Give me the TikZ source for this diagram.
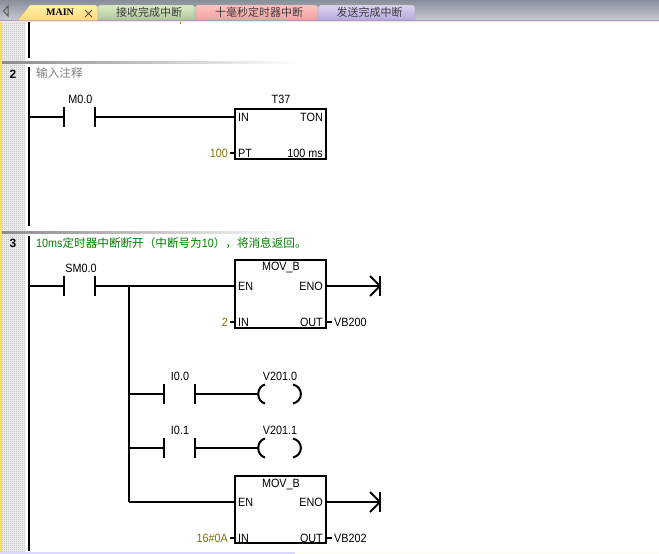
\documentclass[tikz,border=0pt]{standalone}
\usepackage{fontspec}
\setmainfont{Liberation Sans}
\newfontfamily\cjk{Noto Sans CJK SC}
\newfontfamily\serifb{Liberation Serif}
\newfontfamily\plcfont{Liberation Sans}[FakeStretch=0.9]
\usetikzlibrary{patterns}
\pgfdeclarepatternformonly{dither}{\pgfpointorigin}{\pgfqpoint{2pt}{2pt}}{\pgfqpoint{2pt}{2pt}}{%
  \pgfpathrectangle{\pgfpointorigin}{\pgfqpoint{1pt}{1pt}}%
  \pgfpathrectangle{\pgfqpoint{1pt}{1pt}}{\pgfqpoint{1pt}{1pt}}%
  \pgfusepath{fill}}
\definecolor{olivetxt}{HTML}{807000}
\definecolor{cmtgreen}{HTML}{008000}
\definecolor{cmtgrey}{HTML}{808080}
\definecolor{tabtxt}{HTML}{3A3A3A}
\definecolor{striptop}{HTML}{888E9A}
\definecolor{stripbot}{HTML}{C6CAD2}
\definecolor{mainT}{HTML}{FFF2A8}
\definecolor{mainB}{HTML}{FFD878}
\definecolor{grnT}{HTML}{DCEBC4}
\definecolor{grnB}{HTML}{AEC69C}
\definecolor{redT}{HTML}{FFC4C0}
\definecolor{redB}{HTML}{F2A0A0}
\definecolor{vioT}{HTML}{DCD4F2}
\definecolor{vioB}{HTML}{B8A8DE}
\tikzset{
  wire/.style={line width=2pt,line cap=butt,line join=miter,black},
  fb/.style={draw=black,line width=2pt,fill=white,minimum width=91pt,inner sep=0pt,outer sep=0pt},
  lbl/.style={font=\plcfont\fontsize{12pt}{13pt}\selectfont,inner sep=0pt,anchor=center,text=black},
  pinl/.style={lbl,anchor=west},
  pinr/.style={lbl,anchor=east},
  const/.style={lbl,anchor=east,text=olivetxt},
  opnd/.style={lbl,anchor=west},
  cmt/.style={font=\plcfont\fontsize{12pt}{14pt}\selectfont,inner sep=0pt,anchor=west},
  tabt/.style={font=\cjk\fontsize{11pt}{13pt}\selectfont,inner sep=0pt,text=tabtxt},
  netno/.style={font=\bfseries\fontsize{12pt}{13pt}\selectfont,inner sep=0pt},
  sep/.style={left color=#1,right color=white,draw=none},
  tabshape/.style 2 args={top color=#1,bottom color=#2,draw=gray!75},
}
\newcommand{\cj}[1]{{\cjk\fontsize{11.6pt}{14pt}\selectfont #1}}
\newcommand{\contact}[3]{% name, x, y
  \coordinate (#1a) at (#2,#3);
  \coordinate (#1b) at ({#2+31},#3);
  \draw[wire] ({#2},{#3-10}) -- ({#2},{#3+10});
  \draw[wire] ({#2+31},{#3-10}) -- ({#2+31},{#3+10});
}
\newcommand{\coil}[3]{% name, x, y
  \coordinate (#1a) at (#2,#3);
  \draw[wire] ({#2+7},{#3-9.5}) .. controls ({#2-2},{#3-7}) and ({#2-2},{#3+7}) .. ({#2+7},{#3+9.5});
  \draw[wire] ({#2+35},{#3-9.5}) .. controls ({#2+45.5},{#3-7}) and ({#2+45.5},{#3+7}) .. ({#2+35},{#3+9.5});
}
\newcommand{\nxt}[2]{% x,y  : next-network arrow head
  \draw[wire] ({#1},{#2-10}) -- ({#1},{#2+10});
  \draw[wire] ({#1-10},{#2-10}) -- ({#1},{#2}) -- ({#1-10},{#2+10});
}
\begin{document}
\begin{tikzpicture}[x=1pt,y=-1pt]
\useasboundingbox (0,0) rectangle (659,554);
\fill[white] (0,0) rectangle (659,554);
% title strip
\shade[top color=striptop,bottom color=stripbot] (0,0) rectangle (659,20);
\fill[gray!70] (0,20) rectangle (659,21);
\fill[yellow!55] (0,21) rectangle (659,22);
% left margin
\fill[yellow!60!orange!60] (0,22) rectangle (2,554);
\fill[gray!12] (2,22) rectangle (25,552);
\fill[pattern=dither,pattern color=gray!55] (2,22) rectangle (25,552);
% scroll arrow
\draw[gray!70!black,line width=1pt] (8,6) -- (3.5,11) -- (8,16) -- cycle;
% tabs
\shade[tabshape={mainT}{mainB}] (17,20.5) -- (30,5) -- (96,5) -- (98,7) -- (98,20.5) -- cycle;
\shade[tabshape={grnT}{grnB}] (98,20) -- (98,6) -- (100,5) -- (193,5) -- (195,7) -- (195,20) -- cycle;
\shade[tabshape={redT}{redB}] (195,20) -- (195,7) -- (197,5) -- (316,5) -- (318,7) -- (318,20) -- cycle;
\shade[tabshape={vioT}{vioB}] (318,20) -- (318,7) -- (320,5) -- (413,5) -- (415,7) -- (415,20) -- cycle;
\node[font=\serifb\bfseries\fontsize{10pt}{12pt}\selectfont,inner sep=0pt] (tabmain) at (60,12) {MAIN};
\draw[black!70,line width=1pt] (85,10) -- (92,17) (92,10) -- (85,17);
\node[tabt] (tab2) at (149,12) {接收完成中断};
\node[tabt] (tab3) at (259,12) {十毫秒定时器中断};
\node[tabt] (tab4) at (369.5,12) {发送完成中断};
\fill[olive] (180,22) rectangle (181,24);
% network separators
\shade[sep=gray!90] (2,61.5) rectangle (300,63.5);
\shade[sep=gray!90] (2,231) rectangle (300,233);
% power rails
\coordinate (r1t) at (29,22);   \coordinate (r1b) at (29,58);
\coordinate (r2t) at (29,67);   \coordinate (r2b) at (29,226);
\coordinate (r3t) at (29,236);  \coordinate (r3b) at (29,551);
\draw[wire] (r1t) -- (r1b);
\draw[wire] (r2t) -- (r2b);
\draw[wire] (r3t) -- (r3b);
% network 2
\node[netno] (n2) at (13,74) {2};
\node[cmt,text=cmtgrey] (c2) at (36,73.5) {\cj{输入注释}};
\coordinate (w2) at (29,117);
\contact{cm}{64}{117}
\node[lbl] (lm) at (80.5,99) {M0.0};
\node[fb,minimum height=50pt] (t37) at (280.5,134) {};
\node[lbl] (lt) at (281,99) {T37};
\node[pinl] (t37in) at (238,117) {IN};
\node[pinr] (t37ton) at (323,117) {TON};
\node[pinl] (t37pt) at (238,153) {PT};
\node[pinr] (t37ms) at (323,153) {100 ms};
\node[const] (k100) at (228,153) {100};
\draw[wire] (w2) -- (cma);
\draw[wire] (cmb) -- (t37.west |- cmb);
\draw[wire] (230,153) -- (t37.west |- t37pt);
% network 3
\node[netno] (n3) at (13,243) {3};
\node[cmt,text=cmtgreen] (c3) at (36,243) {10ms\cj{定时器中断断开（中断号为}10\cj{），将消息返回。}};
\coordinate (w3) at (29,286);
\contact{cs}{64}{286}
\node[lbl] (ls) at (81,268) {SM0.0};
\node[fb,minimum height=68pt] (mov1) at (280.5,294) {};
\node[lbl] (m1t) at (281,268) {MOV\_B};
\node[pinl] (m1en) at (238,286) {EN};
\node[pinr] (m1eno) at (323,286) {ENO};
\node[pinl] (m1in) at (238,322) {IN};
\node[pinr] (m1out) at (323,322) {OUT};
\node[const] (k2) at (228,322) {2};
\node[opnd] (vb200) at (334,322) {VB200};
\coordinate (e1) at (380,286);
\draw[wire] (w3) -- (csa);
\draw[wire] (csb) -- (mov1.west |- csb);
\draw[wire] (mov1.east |- e1) -- (e1);
\nxt{380}{286}
\draw[wire] (230,322) -- (mov1.west |- m1in);
\draw[wire,shorten >=2pt] (mov1.east |- m1out) -- (vb200.west);
% branches
\coordinate (b0) at (129,286);
\coordinate (b1) at (129,394);
\coordinate (b2) at (129,448);
\coordinate (b3) at (129,502);
\draw[wire] (b0) -- (b3);
\contact{ca}{164}{394}
\node[lbl] (la) at (180,376) {I0.0};
\coil{qa}{258}{394}
\node[lbl] (lqa) at (280,376) {V201.0};
\draw[wire] (b1) -- (caa);
\draw[wire] (cab) -- (qaa);
\contact{cb}{164}{448}
\node[lbl] (lb) at (180,430) {I0.1};
\coil{qb}{258}{448}
\node[lbl] (lqb) at (280,430) {V201.1};
\draw[wire] (b2) -- (cba);
\draw[wire] (cbb) -- (qba);
\node[fb,minimum height=67pt] (mov2) at (280.5,509.5) {};
\node[lbl] (m2t) at (281,484) {MOV\_B};
\node[pinl] (m2en) at (238,502) {EN};
\node[pinr] (m2eno) at (323,502) {ENO};
\node[pinl] (m2in) at (238,538) {IN};
\node[pinr] (m2out) at (323,538) {OUT};
\node[const] (k16) at (228,538) {16\#0A};
\node[opnd] (vb202) at (334,538) {VB202};
\coordinate (e2) at (380,502);
\draw[wire] (b3) -- (mov2.west |- b3);
\draw[wire] (mov2.east |- e2) -- (e2);
\nxt{380}{502}
\draw[wire] (230,538) -- (mov2.west |- m2in);
\draw[wire,shorten >=2pt] (mov2.east |- m2out) -- (vb202.west);
% bottom edge
\fill[blue!15!white] (0,552) rectangle (295,554);
\fill[black!7!yellow!6] (295,552) rectangle (659,554);
\end{tikzpicture}
\end{document}
